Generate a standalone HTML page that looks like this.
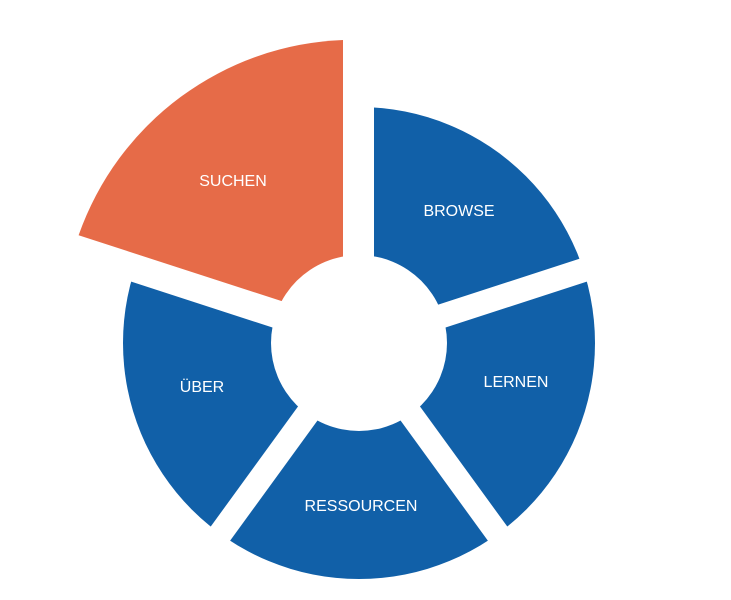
<!DOCTYPE html>
<html><head><meta charset="utf-8"><style>
html,body{margin:0;padding:0;background:#fff;}
svg{display:block}
text{font-family:"Liberation Sans",sans-serif;font-size:16px;fill:#fff;text-anchor:middle;dominant-baseline:middle;}
</style></head><body>
<svg width="731" height="600" viewBox="0 0 731 600">
<circle cx="359" cy="343" r="236" fill="#1160a8"/>
<path d="M359,343 L59,245.5 A316,316 0 0,1 359,27 Z" fill="#fff"/>
<g stroke="#fff" stroke-width="24">
<line x1="359" y1="343" x2="359" y2="40"/>
<line x1="359" y1="343" x2="659" y2="245.5"/>
<line x1="359" y1="343" x2="544.4" y2="598"/>
<line x1="359" y1="343" x2="173.6" y2="598"/>
<line x1="359" y1="343" x2="59" y2="245.5"/>
</g>
<rect x="359" y="90" width="15" height="170" fill="#fff"/>
<path d="M343,321 L78.6,235.3 A292,292 0 0,1 343,40 Z" fill="#e66b48"/>
<circle cx="359" cy="343" r="88" fill="#fff"/>
<text x="233" y="182">SUCHEN</text>
<text x="459" y="212">BROWSE</text>
<text x="516" y="383">LERNEN</text>
<text x="361" y="507">RESSOURCEN</text>
<text x="202" y="388">ÜBER</text>
</svg>
</body></html>
